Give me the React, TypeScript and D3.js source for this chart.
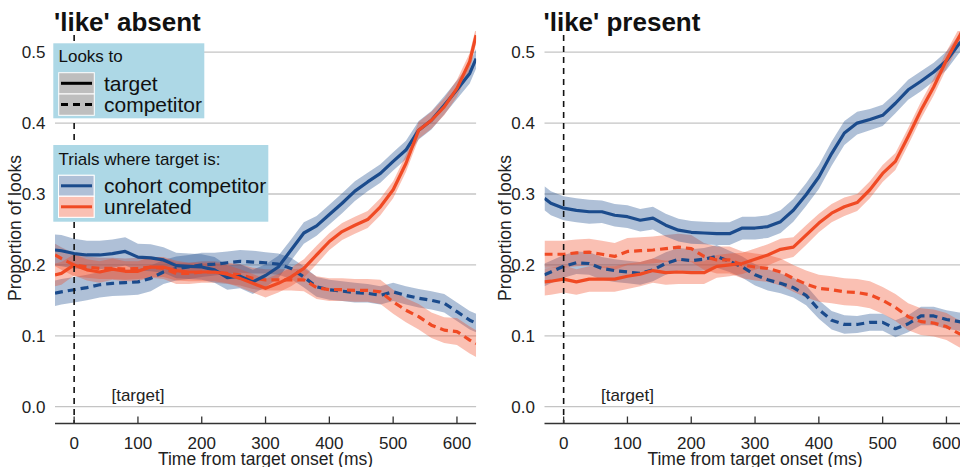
import React from "react";
import * as d3 from "d3";

const times = [-30, -20, 0, 20, 40, 60, 80, 100, 120, 140, 160, 180, 200, 220, 240, 260, 280, 300, 320, 340, 360, 380, 400, 420, 440, 460, 480, 500, 520, 540, 560, 580, 600, 620, 630];

// 'like' absent
const absCohortTarget = [0.221, 0.220, 0.216, 0.214, 0.214, 0.216, 0.219, 0.211, 0.210, 0.207, 0.199, 0.198, 0.197, 0.193, 0.182, 0.184, 0.176, 0.185, 0.197, 0.221, 0.245, 0.255, 0.271, 0.287, 0.304, 0.317, 0.329, 0.346, 0.362, 0.390, 0.404, 0.425, 0.447, 0.470, 0.491];
const absUnrelTarget = [0.186, 0.188, 0.200, 0.193, 0.190, 0.194, 0.191, 0.191, 0.197, 0.197, 0.192, 0.190, 0.190, 0.190, 0.187, 0.181, 0.174, 0.167, 0.174, 0.183, 0.195, 0.214, 0.233, 0.247, 0.256, 0.264, 0.282, 0.306, 0.343, 0.390, 0.404, 0.423, 0.449, 0.487, 0.524];
const absCohortComp = [0.160, 0.162, 0.165, 0.168, 0.172, 0.174, 0.175, 0.176, 0.181, 0.190, 0.195, 0.197, 0.200, 0.201, 0.203, 0.205, 0.204, 0.203, 0.201, 0.195, 0.183, 0.169, 0.165, 0.163, 0.161, 0.160, 0.157, 0.162, 0.157, 0.153, 0.150, 0.146, 0.134, 0.122, 0.118];
const absUnrelComp = [0.214, 0.209, 0.200, 0.197, 0.195, 0.195, 0.194, 0.195, 0.197, 0.195, 0.188, 0.188, 0.190, 0.190, 0.188, 0.186, 0.181, 0.179, 0.179, 0.179, 0.179, 0.168, 0.165, 0.165, 0.164, 0.164, 0.162, 0.148, 0.136, 0.127, 0.115, 0.108, 0.106, 0.094, 0.089];

const absCohortTargetHW = [0.022, 0.022, 0.021, 0.020, 0.020, 0.020, 0.020, 0.019, 0.019, 0.018, 0.018, 0.018, 0.018, 0.018, 0.017, 0.017, 0.017, 0.016, 0.016, 0.015, 0.015, 0.014, 0.014, 0.014, 0.014, 0.013, 0.013, 0.013, 0.013, 0.013, 0.013, 0.013, 0.013, 0.014, 0.014];
const absUnrelTargetHW = [0.016, 0.016, 0.015, 0.015, 0.015, 0.015, 0.014, 0.014, 0.014, 0.014, 0.014, 0.013, 0.013, 0.013, 0.013, 0.013, 0.013, 0.013, 0.013, 0.013, 0.013, 0.013, 0.012, 0.012, 0.012, 0.012, 0.012, 0.012, 0.012, 0.012, 0.012, 0.012, 0.012, 0.012, 0.012];
const absCohortCompHW = [0.018, 0.018, 0.018, 0.018, 0.018, 0.018, 0.018, 0.018, 0.018, 0.017, 0.017, 0.017, 0.017, 0.016, 0.016, 0.016, 0.016, 0.015, 0.015, 0.015, 0.015, 0.014, 0.014, 0.014, 0.014, 0.013, 0.013, 0.013, 0.013, 0.013, 0.013, 0.013, 0.013, 0.013, 0.013];
const absUnrelCompHW = [0.016, 0.016, 0.016, 0.015, 0.015, 0.015, 0.015, 0.015, 0.015, 0.015, 0.015, 0.015, 0.015, 0.015, 0.015, 0.015, 0.015, 0.015, 0.015, 0.015, 0.016, 0.016, 0.016, 0.016, 0.016, 0.016, 0.017, 0.017, 0.017, 0.018, 0.018, 0.018, 0.019, 0.019, 0.019];

// 'like' present
const presCohortTarget = [0.294, 0.287, 0.280, 0.277, 0.275, 0.275, 0.270, 0.268, 0.263, 0.266, 0.256, 0.249, 0.246, 0.245, 0.244, 0.244, 0.252, 0.252, 0.254, 0.261, 0.277, 0.299, 0.324, 0.357, 0.386, 0.400, 0.405, 0.411, 0.428, 0.447, 0.459, 0.472, 0.488, 0.512, 0.520];
const presUnrelTarget = [0.176, 0.177, 0.180, 0.176, 0.180, 0.180, 0.180, 0.184, 0.187, 0.192, 0.189, 0.190, 0.189, 0.189, 0.198, 0.200, 0.202, 0.208, 0.214, 0.222, 0.225, 0.242, 0.259, 0.273, 0.282, 0.288, 0.306, 0.329, 0.346, 0.381, 0.418, 0.451, 0.489, 0.522, 0.540];
const presCohortComp = [0.186, 0.190, 0.198, 0.203, 0.202, 0.195, 0.192, 0.190, 0.188, 0.193, 0.202, 0.208, 0.206, 0.208, 0.212, 0.205, 0.197, 0.186, 0.179, 0.174, 0.168, 0.157, 0.137, 0.122, 0.116, 0.116, 0.119, 0.119, 0.110, 0.117, 0.128, 0.128, 0.123, 0.120, 0.118];
const presUnrelComp = [0.215, 0.215, 0.215, 0.217, 0.218, 0.215, 0.212, 0.219, 0.220, 0.221, 0.223, 0.225, 0.223, 0.212, 0.207, 0.207, 0.200, 0.197, 0.195, 0.190, 0.181, 0.173, 0.167, 0.165, 0.162, 0.161, 0.158, 0.150, 0.140, 0.127, 0.120, 0.118, 0.113, 0.103, 0.100];

const presCohortTargetHW = [0.017, 0.017, 0.017, 0.017, 0.017, 0.016, 0.016, 0.016, 0.016, 0.016, 0.016, 0.016, 0.016, 0.016, 0.016, 0.016, 0.016, 0.016, 0.016, 0.016, 0.016, 0.016, 0.017, 0.017, 0.017, 0.016, 0.015, 0.015, 0.014, 0.014, 0.014, 0.013, 0.013, 0.013, 0.013];
const presUnrelTargetHW = [0.019, 0.019, 0.019, 0.018, 0.018, 0.018, 0.018, 0.018, 0.017, 0.017, 0.017, 0.017, 0.016, 0.016, 0.016, 0.016, 0.015, 0.015, 0.015, 0.015, 0.014, 0.014, 0.013, 0.013, 0.013, 0.012, 0.012, 0.012, 0.012, 0.012, 0.012, 0.012, 0.012, 0.012, 0.012];
const presCohortCompHW = [0.016, 0.016, 0.016, 0.016, 0.016, 0.016, 0.016, 0.016, 0.016, 0.016, 0.016, 0.016, 0.016, 0.016, 0.016, 0.015, 0.015, 0.015, 0.015, 0.014, 0.014, 0.014, 0.013, 0.013, 0.013, 0.012, 0.012, 0.012, 0.012, 0.012, 0.013, 0.013, 0.013, 0.013, 0.013];
const presUnrelCompHW = [0.019, 0.019, 0.019, 0.019, 0.019, 0.019, 0.019, 0.019, 0.019, 0.019, 0.019, 0.019, 0.019, 0.019, 0.019, 0.019, 0.019, 0.019, 0.019, 0.019, 0.019, 0.019, 0.019, 0.019, 0.019, 0.019, 0.019, 0.019, 0.019, 0.019, 0.019, 0.019, 0.019, 0.019, 0.019];

const yTicks = [0.0, 0.1, 0.2, 0.3, 0.4, 0.5];
const xTicks = [0, 100, 200, 300, 400, 500, 600];
const panelTitles = ["'like' absent", "'like' present"];
const lookLegend = ["target", "competitor"];
const trialLegend = ["cohort competitor", "unrelated"];

const BLUE = "#1b4b8c";
const RED = "#f04a24";
const FONT = "'Liberation Sans', Arial, Helvetica, sans-serif";

type Series = { vals: number[]; hw: number[]; color: string; dashed: boolean };

function Panel({ ox, title, series, idx, legend }: { ox: number; title: string; series: Series[]; idx: number; legend: boolean }) {
  const x = d3.scaleLinear().domain([-30, 630]).range([55 + ox, 476.1 + ox]);
  const y = d3.scaleLinear().domain([0, 0.5]).range([406.7, 52.2]);
  const left = 55 + ox;
  const right = Math.min(476.1 + ox, 960);
  const axisY = 423.5;
  const clipId = `clip${idx}`;
  const area = (s: Series) =>
    d3
      .area<number>()
      .x((_, i) => x(times[i]))
      .y0((_, i) => y(s.vals[i] - s.hw[i]))
      .y1((_, i) => y(s.vals[i] + s.hw[i]))(s.vals) || "";
  const line = (s: Series) =>
    d3
      .line<number>()
      .x((_, i) => x(times[i]))
      .y((d) => y(d))(s.vals) || "";
  return (
    <g fontFamily={FONT}>
      <defs>
        <clipPath id={clipId}>
          <rect x={left} y={31} width={476.1 + ox - left} height={axisY - 31} />
        </clipPath>
      </defs>
      {yTicks.map((t) => (
        <g key={t}>
          <line x1={left} x2={right} y1={y(t)} y2={y(t)} stroke="#c4c4c4" strokeWidth={1.3} />
          <text x={left - 9.5} y={y(t) + 6} textAnchor="end" fontSize={17} fill="#222">
            {t.toFixed(1)}
          </text>
        </g>
      ))}
      <g clipPath={`url(#${clipId})`}>
        {series.map((s, i) => (
          <path key={"a" + i} d={area(s)} fill={s.color} fillOpacity={0.35} stroke="none" />
        ))}
        {series.map((s, i) => (
          <path
            key={"l" + i}
            d={line(s)}
            fill="none"
            stroke={s.color}
            strokeWidth={3.2}
            strokeDasharray={s.dashed ? "8,5" : undefined}
            strokeLinejoin="round"
          />
        ))}
      </g>
      <line x1={x(0)} x2={x(0)} y1={35} y2={axisY} stroke="#111" strokeWidth={1.6} strokeDasharray="6,5" />
      <text x={x(100)} y={401} textAnchor="middle" fontSize={17} fill="#222">
        [target]
      </text>
      <line x1={left} x2={right} y1={axisY} y2={axisY} stroke="#333" strokeWidth={1.3} />
      {xTicks.map((t) => (
        <g key={t}>
          <line x1={x(t)} x2={x(t)} y1={axisY} y2={axisY - 7} stroke="#333" strokeWidth={1.3} />
          <text x={x(t)} y={449} textAnchor="middle" fontSize={17} fill="#222">
            {t}
          </text>
        </g>
      ))}
      <text x={265.5 + ox} y={465} textAnchor="middle" fontSize={17.5} fill="#222">
        Time from target onset (ms)
      </text>
      <text
        transform={`translate(${21 + ox},228) rotate(-90)`}
        textAnchor="middle"
        fontSize={17.5}
        fill="#222"
      >
        Proportion of looks
      </text>
      <text x={54 + ox} y={31} fontSize={26} fontWeight="bold" fill="#111">
        {title}
      </text>
      {legend && (
        <g>
          <rect x={53.3} y={43.3} width={151} height={75} fill="#add8e6" />
          <text x={58.5} y={62} fontSize={17} fill="#111">Looks to</text>
          {lookLegend.map((lab, i) => (
            <g key={lab}>
              <rect x={58.7} y={72.7 + i * 21.3} width={35.6} height={21.3} fill="#bebebe" stroke="#fff" strokeWidth={1} />
              <line
                x1={61}
                x2={92}
                y1={83.3 + i * 21.3}
                y2={83.3 + i * 21.3}
                stroke="#000"
                strokeWidth={3}
                strokeDasharray={i === 1 ? "7,5" : undefined}
              />
              <text x={104} y={90.5 + i * 21.3} fontSize={21} fill="#111">{lab}</text>
            </g>
          ))}
          <rect x={53.3} y={145} width={215} height={76.7} fill="#add8e6" />
          <text x={58.5} y={165} fontSize={17} fill="#111">Trials where target is:</text>
          {trialLegend.map((lab, i) => {
            const c = i === 0 ? BLUE : RED;
            return (
              <g key={lab}>
                <rect x={58.5} y={175.3 + i * 21} width={35.6} height={21} fill="#fff" stroke="#fff" strokeWidth={1} />
                <rect x={58.5} y={175.3 + i * 21} width={35.6} height={21} fill={c} fillOpacity={0.35} stroke="#fff" strokeWidth={1} />
                <line x1={61} x2={92} y1={185.8 + i * 21} y2={185.8 + i * 21} stroke={c} strokeWidth={3} />
                <text x={104} y={192.5 + i * 21} fontSize={21} fill="#111">{lab}</text>
              </g>
            );
          })}
        </g>
      )}
    </g>
  );
}

export default function App() {
  const absent: Series[] = [
    { vals: absCohortComp, hw: absCohortCompHW, color: BLUE, dashed: true },
    { vals: absUnrelComp, hw: absUnrelCompHW, color: RED, dashed: true },
    { vals: absCohortTarget, hw: absCohortTargetHW, color: BLUE, dashed: false },
    { vals: absUnrelTarget, hw: absUnrelTargetHW, color: RED, dashed: false },
  ];
  const present: Series[] = [
    { vals: presCohortComp, hw: presCohortCompHW, color: BLUE, dashed: true },
    { vals: presUnrelComp, hw: presUnrelCompHW, color: RED, dashed: true },
    { vals: presCohortTarget, hw: presCohortTargetHW, color: BLUE, dashed: false },
    { vals: presUnrelTarget, hw: presUnrelTargetHW, color: RED, dashed: false },
  ];
  return (
    <svg
      width={960}
      height={467}
      style={{ position: "absolute", left: 0, top: 0, display: "block", background: "#fff" }}
    >
      <rect x={0} y={0} width={960} height={467} fill="#fff" />
      <Panel ox={0} title={panelTitles[0]} series={absent} idx={0} legend={true} />
      <Panel ox={489.5} title={panelTitles[1]} series={present} idx={1} legend={false} />
    </svg>
  );
}
